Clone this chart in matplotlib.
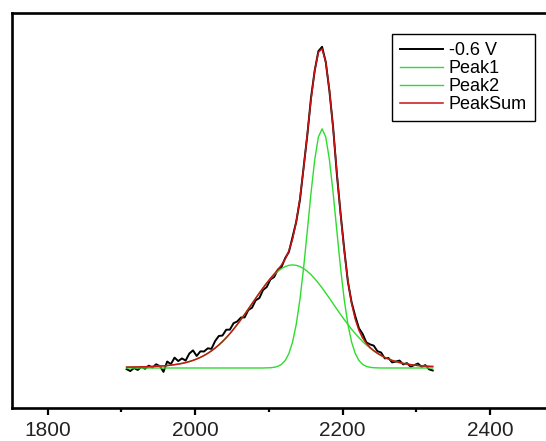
import matplotlib
matplotlib.use("Agg")
import matplotlib.pyplot as plt
from matplotlib.ticker import MultipleLocator

plt.rcParams['font.family'] = ['Liberation Sans', 'DejaVu Sans']

# wavenumber grid (step 5)
x = [1907 + 5 * i for i in range(84)]

data = [-0.0036, -0.0096, 0.0000, -0.0061, 0.0035, -0.0024, 0.0073, 0.0016, 0.0115, 0.0059,
        -0.0121, 0.0202, 0.0120, 0.0323, 0.0216, 0.0299, 0.0232, 0.0451, 0.0550, 0.0375,
        0.0520, 0.0515, 0.0614, 0.0598, 0.0841, 0.1000, 0.1014, 0.1195, 0.1198, 0.1400,
        0.1453, 0.1577, 0.1581, 0.1810, 0.1884, 0.2115, 0.2186, 0.2439, 0.2531, 0.2767,
        0.2841, 0.3071, 0.3156, 0.3433, 0.3626, 0.4094, 0.4573, 0.5250, 0.6276, 0.7278,
        0.8444, 0.9290, 0.9898, 1.0034, 0.9557, 0.8646, 0.7507, 0.6068, 0.4845, 0.3720,
        0.2694, 0.2054, 0.1617, 0.1241, 0.1063, 0.0801, 0.0737, 0.0699, 0.0525, 0.0484,
        0.0301, 0.0312, 0.0175, 0.0201, 0.0232, 0.0112, 0.0153, 0.0042, 0.0089, 0.0140,
        0.0036, 0.0090, -0.0042, -0.0078]

# narrow component
peak1 = [0.0] * 38 + [0.0004, 0.0008, 0.0021, 0.0051, 0.0112, 0.0233, 0.0450, 0.0811,
        0.1366, 0.2143, 0.3139, 0.4289, 0.5467, 0.6500, 0.7215, 0.7470, 0.7215, 0.6500,
        0.5467, 0.4289, 0.3139, 0.2143, 0.1366, 0.0811, 0.0450, 0.0233, 0.0112, 0.0051,
        0.0021, 0.0008, 0.0004] + [0.0] * 15

# broad component
peak2 = [0.0027, 0.0029, 0.0031, 0.0033, 0.0035, 0.0039, 0.0042, 0.0047, 0.0052, 0.0059,
         0.0067, 0.0077, 0.0089, 0.0104, 0.0122, 0.0143, 0.0169, 0.0201, 0.0237, 0.0281,
         0.0332, 0.0390, 0.0458, 0.0535, 0.0622, 0.0719, 0.0826, 0.0945, 0.1073, 0.1212,
         0.1359, 0.1514, 0.1675, 0.1841, 0.2009, 0.2177, 0.2342, 0.2501, 0.2652, 0.2790,
         0.2914, 0.3020, 0.3106, 0.3169, 0.3207, 0.3220, 0.3207, 0.3169, 0.3106, 0.3020,
         0.2914, 0.2790, 0.2652, 0.2501, 0.2342, 0.2177, 0.2009, 0.1841, 0.1675, 0.1514,
         0.1359, 0.1212, 0.1073, 0.0945, 0.0826, 0.0719, 0.0622, 0.0535, 0.0458, 0.0390,
         0.0332, 0.0281, 0.0237, 0.0201, 0.0169, 0.0143, 0.0122, 0.0104, 0.0089, 0.0077,
         0.0067, 0.0059, 0.0052, 0.0047]

peaksum = [a + b for a, b in zip(peak1, peak2)]

fig = plt.figure(figsize=(5.46, 4.41), dpi=100)
ax = fig.add_axes([12 / 546, 33 / 441, 552 / 546, 395 / 441])

ax.plot(x, data, color='black', lw=1.4, label='-0.6 V')
ax.plot(x, peak1, color='#2edc2e', lw=1.0, label='Peak1')
ax.plot(x, peak2, color='#2edc2e', lw=1.0, label='Peak2')
ax.plot(x, peaksum, color='#c81414', lw=1.1, label='PeakSum')

ax.set_xlim(1751.6, 2500)
ax.set_ylim(-0.125, 1.109)

for s in ax.spines.values():
    s.set_linewidth(1.9)

ax.xaxis.set_major_locator(MultipleLocator(200))
ax.xaxis.set_minor_locator(MultipleLocator(100))
ax.tick_params(axis='x', which='major', direction='out', length=5, width=1.6,
               labelsize=15, labelcolor='#222222', pad=4)
ax.tick_params(axis='x', which='minor', direction='out', length=3, width=1.6)
ax.set_yticks([])

leg = ax.legend(loc='upper left', bbox_to_anchor=(392 / 546, 1 - 34 / 441),
                bbox_transform=fig.transFigure, borderaxespad=0,
                fancybox=False, edgecolor='black', framealpha=1,
                fontsize=13, handlelength=2.4, handletextpad=0.3,
                labelspacing=0.05, borderpad=0.45)
leg.get_frame().set_linewidth(1.0)

fig.savefig('out.png', dpi=100)
